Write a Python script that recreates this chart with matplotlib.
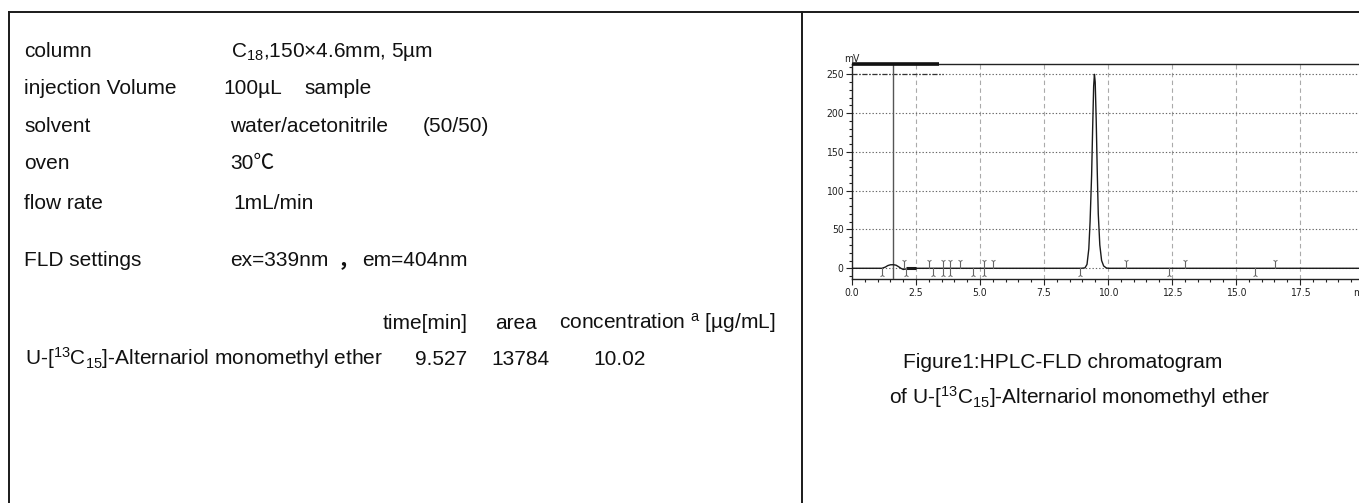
import matplotlib
matplotlib.use("Agg")
import matplotlib.pyplot as plt
from matplotlib.lines import Line2D
from matplotlib.ticker import MultipleLocator, FormatStrFormatter
from matplotlib import font_manager as fm

# ---------------- data ----------------
param_labels = ["column", "injection Volume", "solvent", "oven", "flow rate", "FLD settings"]
param_values = [
    [r"C$_{18}$,150×4.6mm, 5µm"],
    ["100µL", "sample"],
    ["water/acetonitrile", "(50/50)"],
    ["30℃"],
    ["1mL/min"],
    ["ex=339nm", "，", "em=404nm"],
]
table_header = ["time[min]", "area", r"concentration $^{\mathrm{a}}$ [µg/mL]"]
compound = r"U-[$^{13}$C$_{15}$]-Alternariol monomethyl ether"
ret_time = "9.527"
peak_area = "13784"
concentration = "10.02"
caption = ["Figure1:HPLC-FLD chromatogram",
           r"of U-[$^{13}$C$_{15}$]-Alternariol monomethyl ether"]

# chromatogram trace (time [min], signal [mV])
trace_t = [0.0, 1.17, 1.30, 1.40, 1.50, 1.62, 1.72, 1.82, 1.91, 2.00, 2.10, 2.20,
           8.95, 9.10, 9.18, 9.25, 9.30, 9.36, 9.40, 9.44, 9.47, 9.50, 9.54, 9.58,
           9.62, 9.68, 9.75, 9.83, 9.93, 10.0, 19.8]
trace_mv = [0, 0, 1.5, 3.5, 4.5, 4.6, 4.0, 2.0, 0, -1.5, -1.0, 0,
            0, 0.5, 5, 25, 60, 120, 180, 235, 250, 240, 190, 125,
            70, 30, 10, 3, 0.5, 0, 0]
marks_up = [2.02, 2.99, 3.54, 3.81, 4.22, 5.15, 5.50, 10.72, 13.02, 16.51]
marks_down = [1.17, 2.10, 3.16, 3.54, 3.81, 4.73, 5.15, 8.90, 12.38, 15.74]
bold_baseline = [2.10, 2.50]
void_time = 1.61
ref_level_span = [0.0, 3.54]
ref_level = 250
top_bold_span = [0.0, 3.40]
x_ticks_step = 2.5
y_ticks_step = 50

# ---------------- layout ----------------
W, H = 1359, 503
fig = plt.figure(figsize=(W / 100, H / 100), dpi=100)
fig.patch.set_facecolor("white")


def fx(px):
    return px / W


def fy(py):
    return 1 - py / H


main_font = "Liberation Sans"
fallback = [main_font, "Noto Sans CJK SC"]
fs = 15

names = {f.name for f in fm.fontManager.ttflist}
if "Liberation Sans Narrow" in names:
    tick_font = dict(family="Liberation Sans Narrow")
else:
    tick_font = dict(family="DejaVu Sans", stretch="condensed")

plt.rcParams["mathtext.fontset"] = "custom"
plt.rcParams["mathtext.rm"] = main_font
plt.rcParams["mathtext.it"] = main_font + ":italic"
plt.rcParams["mathtext.default"] = "regular"

# frame lines
frame_col = "#1a1a1a"
fig.add_artist(Line2D([fx(9), 1], [fy(12), fy(12)], color=frame_col, lw=1.4))
fig.add_artist(Line2D([fx(9), fx(9)], [0, fy(12)], color=frame_col, lw=1.4))
fig.add_artist(Line2D([fx(802), fx(802)], [0, fy(12)], color=frame_col, lw=1.4))

# parameter block
row_y = [57.3, 94.3, 131.7, 169.3, 208.7, 265.7]
val_x = [[231], [223, 304], [230, 423], [230], [233], [230, 338, 362]]
for lab, vals, y, xs in zip(param_labels, param_values, row_y, val_x):
    fig.text(fx(24), fy(y), lab, family=main_font, fontsize=fs, va="baseline", color="#111")
    for v, x in zip(vals, xs):
        if "$" in v:
            fig.text(fx(x), fy(y), v, family=main_font, fontsize=fs, va="baseline", color="#111")
        elif v == "，":
            fig.text(fx(x), fy(y), v, family=fallback, fontsize=fs, va="baseline",
                     color="#111", weight="bold")
        else:
            fig.text(fx(x), fy(y), v, family=fallback, fontsize=fs, va="baseline", color="#111")

# table
hdr_x = [383, 495, 559]
for h, x in zip(table_header, hdr_x):
    fig.text(fx(x), fy(329), h, family=main_font, fontsize=fs, va="baseline", color="#111")
fig.text(fx(25), fy(365), compound, family=main_font, fontsize=fs, va="baseline", color="#111")
for v, x in zip([ret_time, peak_area, concentration], [415, 491, 593]):
    fig.text(fx(x), fy(365), v, family=main_font, fontsize=fs, va="baseline", color="#111")

# caption
cap_fs = 15
fig.text(fx(903), fy(368), caption[0], family=main_font, fontsize=cap_fs, va="baseline", color="#111")
fig.text(fx(889), fy(404), caption[1], family=main_font, fontsize=cap_fs, va="baseline", color="#111")

# ---------------- chromatogram ----------------
ax_left, ax_bottom_px, ax_top_px = 852, 279.3, 64
ax = fig.add_axes([fx(ax_left), fy(ax_bottom_px), 1 - fx(ax_left), (ax_bottom_px - ax_top_px) / H])
ax.set_xlim(0, (W - ax_left) / 25.6)
ax.set_ylim(-14.2, 263.3)
ax.set_facecolor("white")

for side in ["right", "top"]:
    ax.spines[side].set_visible(False)
for side in ["left", "bottom"]:
    ax.spines[side].set_color("#222")
    ax.spines[side].set_linewidth(1.0)

ax.xaxis.set_major_locator(MultipleLocator(x_ticks_step))
ax.xaxis.set_minor_locator(MultipleLocator(0.5))
ax.xaxis.set_major_formatter(FormatStrFormatter("%.1f"))
ax.yaxis.set_major_locator(MultipleLocator(y_ticks_step))
ax.yaxis.set_minor_locator(MultipleLocator(10))
ax.tick_params(which="major", direction="out", length=4, width=0.8, color="#222", pad=2,
               labelsize=7, labelcolor="#222")
ax.tick_params(which="minor", direction="out", length=2.5, width=0.8, color="#222")
for lbl in ax.get_xticklabels() + ax.get_yticklabels():
    lbl.set_fontproperties(fm.FontProperties(size=7.5, **tick_font))

ax.yaxis.grid(True, which="major", linestyle=(0, (1.2, 1.8)), color="#666", lw=0.8)
ax.xaxis.grid(True, which="major", linestyle=(0, (4, 3)), color="#aaa", lw=0.8)

# top frame line (thin + bold section)
ymax = ax.get_ylim()[1]
ax.plot(ax.get_xlim(), [ymax, ymax], color="#222", lw=1.0, clip_on=False, zorder=5)
ax.plot(top_bold_span, [ymax, ymax], color="#111", lw=2.6, clip_on=False, zorder=6,
        solid_capstyle="butt")
# reference level dash-dot
ax.plot(ref_level_span, [ref_level, ref_level], color="#333", lw=0.9,
        linestyle=(0, (4, 1.5, 1, 1.5)), zorder=3)
# void-time line
ax.plot([void_time, void_time], ax.get_ylim(), color="#555", lw=1.0, zorder=3)

# trace
ax.plot(trace_t, trace_mv, color="#1a1a1a", lw=1.0, zorder=4)
ax.plot(bold_baseline, [0, 0], color="#1a1a1a", lw=2.2, zorder=4, solid_capstyle="butt")

# integration markers
for t in marks_up:
    ax.plot([t, t], [0, 9], color="#666", lw=0.8, zorder=4)
    ax.plot([t], [9], marker="1", color="#666", ms=3.5, mew=0.7, zorder=4)
for t in marks_down:
    ax.plot([t, t], [0, -9], color="#666", lw=0.8, zorder=4)
    ax.plot([t], [-9], marker="2", color="#666", ms=3.5, mew=0.7, zorder=4)

ax.text(0, ymax, "mV", ha="center", va="bottom", fontproperties=fm.FontProperties(size=7.5, **tick_font),
        color="#222", clip_on=False)
ax.annotate("min", xy=(19.56, 0), xycoords=("data", "axes fraction"), xytext=(0, -6.5),
            textcoords="offset points", ha="left", va="top",
            fontproperties=fm.FontProperties(size=7.5, **tick_font), color="#222",
            annotation_clip=False)

fig.savefig("out.png", dpi=100, facecolor="white")
